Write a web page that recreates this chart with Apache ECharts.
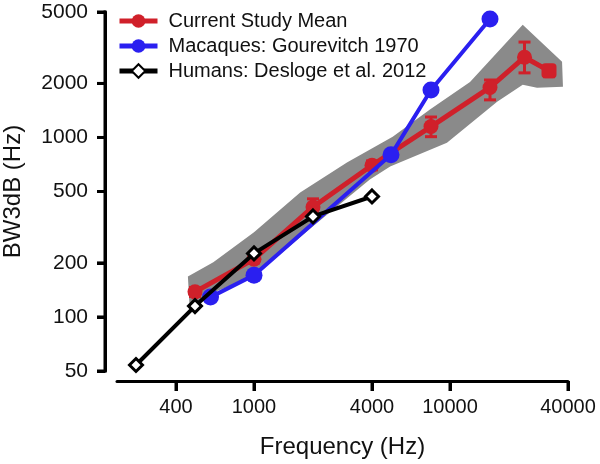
<!DOCTYPE html>
<html>
<head>
<meta charset="utf-8">
<script src="https://cdn.jsdelivr.net/npm/echarts@6/dist/echarts.min.js"></script>
<style>
  html, body { margin: 0; padding: 0; background: #fff; }
  #chart { width: 600px; height: 464px; }
</style>
</head>
<body>
<div id="chart"></div>
<script>
const xTicks = [400, 1000, 4000, 10000, 40000]
const yTicks = [50, 100, 200, 500, 1000, 2000, 5000]

// current study mean + error bars
const studyFreq = [500, 1000, 2000, 4000, 8000, 16000, 24000, 32000]
const studyMean = [138, 210, 410, 700, 1150, 1900, 2800, 2350]
const studyLow = [130, 200, 380, 660, 1010, 1620, 2290, 2180]
const studyHigh = [146, 222, 455, 740, 1300, 2090, 3400, 2500]

// gray band (upper edge and lower edge, left to right)
const bandUpperFreq = [460, 620, 1000, 1720, 2980, 5100, 7900, 12650, 23500, 37300]
const bandUpper = [168, 202, 296, 493, 725, 1010, 1430, 2040, 4240, 2640]
const bandLowerFreq = [470, 620, 1000, 2000, 3900, 4950, 9650, 17400, 23500, 27800, 37700]
const bandLower = [110, 137, 168, 320, 584, 690, 935, 1580, 1966, 1890, 1915]

const macaqueFreq = [600, 1000, 5000, 8000, 16000]
const macaqueBW = [129, 171, 800, 1840, 4570]

const humanFreq = [250, 500, 1000, 2000, 4000]
const humanBW = [54, 115, 226, 363, 469]

const X_MIN = 200, X_MAX = 40000, Y_MIN = 50, Y_MAX = 5000
const X_OFFSET = 10, Y_OFFSET = 12

const RED = '#d0202a'
const BLUE = '#2a1ff0'
const FONT = '"Liberation Sans", Arial, Helvetica, sans-serif'

const chart = echarts.init(document.getElementById('chart'))

function logAxis(extra) {
  return Object.assign({
    type: 'log',
    logBase: 10,
    axisLine: { show: true, onZero: false, lineStyle: { color: '#000', width: 3 } },
    splitLine: { show: false },
    minorTick: { show: false },
    nameLocation: 'middle',
    nameTextStyle: { fontSize: 24, color: '#111', fontFamily: FONT },
  }, extra)
}

const axisStroke = { stroke: '#000', lineWidth: 3 }

const option = {
  animation: false,
  textStyle: { fontFamily: FONT },
  grid: { left: 117, right: 32, top: 12, bottom: 93, outerBoundsMode: 'none' },
  legend: {
    orient: 'vertical',
    left: 112,
    top: 6,
    itemWidth: 38,
    itemHeight: 17,
    itemGap: 5,
    lineStyle: { width: 5 },
    textStyle: { fontSize: 20, color: '#111', padding: [0, 0, 0, 6] },
    data: ['Current Study Mean', 'Macaques: Gourevitch 1970', 'Humans: Desloge et al. 2012'],
  },
  xAxis: logAxis({
    min: X_MIN,
    max: X_MAX,
    offset: X_OFFSET,
    name: 'Frequency (Hz)',
    nameGap: 54,
    axisTick: { show: true, length: 10, lineStyle: { width: 3, color: '#000' }, customValues: xTicks },
    axisLabel: { customValues: xTicks, fontSize: 20, color: '#111', margin: 16, formatter: v => String(Math.round(v)) },
  }),
  yAxis: logAxis({
    min: Y_MIN,
    max: Y_MAX,
    offset: Y_OFFSET,
    name: 'BW3dB (Hz)',
    nameGap: 80,
    axisTick: { show: true, length: 8, lineStyle: { width: 3, color: '#000' }, customValues: yTicks },
    axisLabel: { customValues: yTicks, fontSize: 21, color: '#111', margin: 17, formatter: v => String(Math.round(v)) },
  }),
  series: [
    {
      // y axis line and ticks, x ticks (placed through the axes' scales)
      type: 'custom',
      name: 'axes',
      silent: true,
      clip: false,
      z: 1,
      data: [[1000, 300]],
      renderItem: (params, api) => {
        const bottom = api.coord([X_MIN, Y_MIN])
        const top = api.coord([X_MIN, Y_MAX])
        const ax = bottom[0] - Y_OFFSET
        const ay = bottom[1] + X_OFFSET
        const children = [
          { type: 'line', shape: { x1: ax, y1: bottom[1] + 1.5, x2: ax, y2: top[1] - 1.5 }, style: axisStroke },
        ]
        yTicks.forEach(t => {
          const p = api.coord([X_MIN, t])
          children.push({ type: 'line', shape: { x1: ax - 8, y1: p[1], x2: ax, y2: p[1] }, style: axisStroke })
        })
        xTicks.forEach(t => {
          const p = api.coord([t, Y_MIN])
          children.push({ type: 'line', shape: { x1: p[0], y1: ay, x2: p[0], y2: ay + 10 }, style: axisStroke })
        })
        return { type: 'group', children }
      },
    },
    {
      type: 'custom',
      name: 'band',
      silent: true,
      z: 1,
      data: [[1000, 300]],
      renderItem: (params, api) => {
        const pts = bandUpperFreq.map((f, i) => api.coord([f, bandUpper[i]]))
        for (let i = bandLowerFreq.length - 1; i >= 0; i--) {
          pts.push(api.coord([bandLowerFreq[i], bandLower[i]]))
        }
        return { type: 'polygon', shape: { points: pts }, style: { fill: '#8a8a8a' } }
      },
    },
    {
      type: 'line',
      name: 'Current Study Mean',
      z: 3,
      data: studyFreq.map((f, i) => {
        const item = { value: [f, studyMean[i]] }
        if (i === studyFreq.length - 1) {
          item.symbol = 'roundRect'
          item.symbolSize = 15
        }
        return item
      }),
      symbol: 'circle',
      symbolSize: 15,
      lineStyle: { color: RED, width: 5 },
      itemStyle: { color: RED },
    },
    {
      type: 'custom',
      name: 'errors',
      z: 3,
      silent: true,
      data: studyFreq.map((f, i) => [f, studyLow[i], studyHigh[i]]),
      encode: { x: 0, y: [1, 2] },
      renderItem: (params, api) => {
        const f = api.value(0)
        const lo = api.coord([f, api.value(1)])
        const hi = api.coord([f, api.value(2)])
        const w = 6
        const st = { stroke: RED, lineWidth: 3 }
        return {
          type: 'group',
          children: [
            { type: 'line', shape: { x1: lo[0], y1: lo[1], x2: hi[0], y2: hi[1] }, style: st },
            { type: 'line', shape: { x1: lo[0] - w, y1: lo[1], x2: lo[0] + w, y2: lo[1] }, style: st },
            { type: 'line', shape: { x1: hi[0] - w, y1: hi[1], x2: hi[0] + w, y2: hi[1] }, style: st },
          ],
        }
      },
    },
    {
      type: 'line',
      name: 'Macaques: Gourevitch 1970',
      z: 4,
      data: macaqueFreq.map((f, i) => [f, macaqueBW[i]]),
      symbol: 'circle',
      symbolSize: 17,
      lineStyle: { color: BLUE, width: 4 },
      itemStyle: { color: BLUE },
    },
    {
      type: 'line',
      name: 'Humans: Desloge et al. 2012',
      z: 5,
      data: humanFreq.map((f, i) => [f, humanBW[i]]),
      symbol: 'diamond',
      symbolSize: 13,
      lineStyle: { color: '#000', width: 4 },
      itemStyle: { color: '#fff', borderColor: '#000', borderWidth: 3 },
    },
  ],
}

chart.setOption(option)
</script>
</body>
</html>
